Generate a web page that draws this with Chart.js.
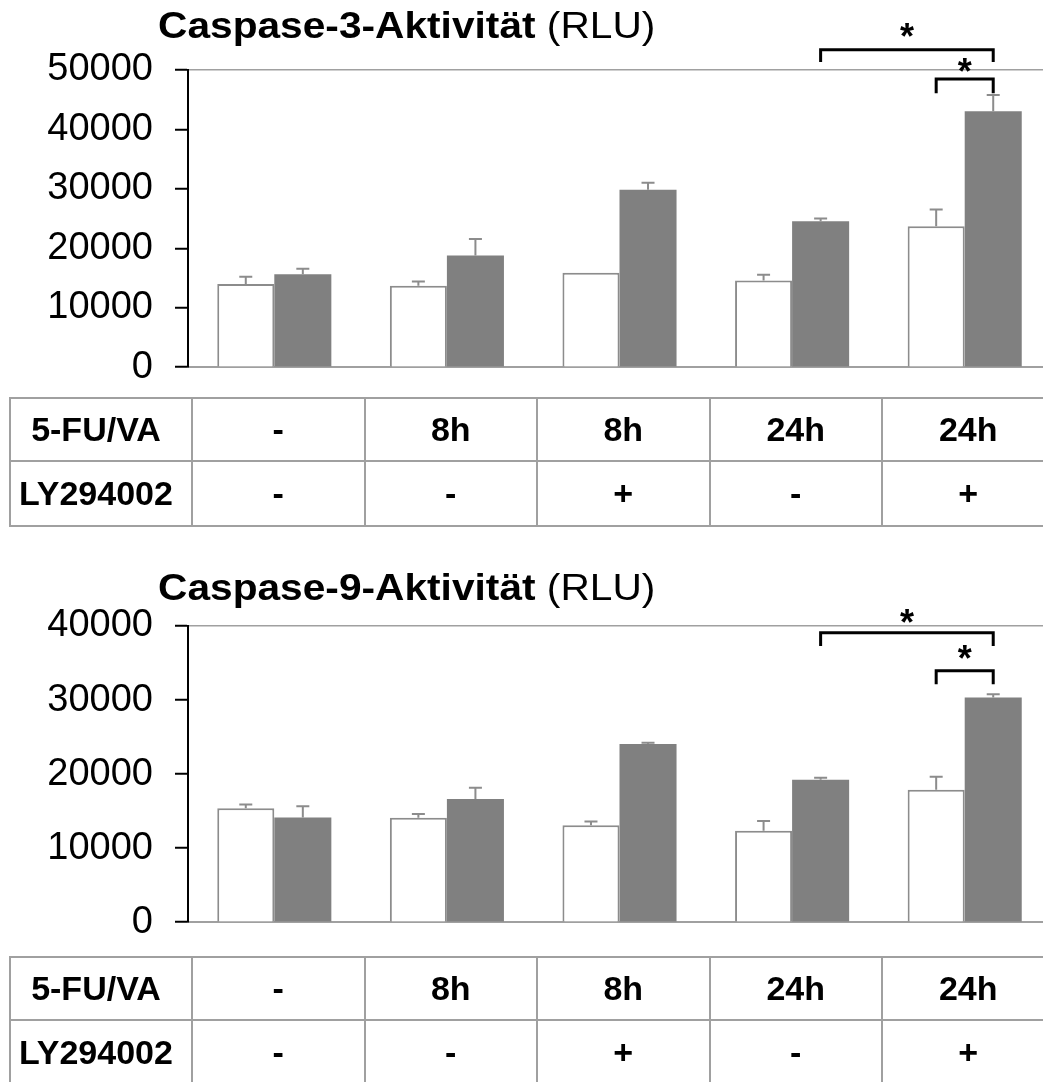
<!DOCTYPE html>
<html>
<head>
<meta charset="utf-8">
<script src="https://cdn.jsdelivr.net/npm/chart.js@4.4.0/dist/chart.umd.min.js"></script>
<style>
body { margin:0; overflow:hidden; background:#fff; font-family:"Liberation Sans", Arial, sans-serif; }
.box { position:absolute; left:0; width:1051px; }
#box1 { top:0; height:412px; }
#box2 { top:540px; height:427px; }
table { position:absolute; left:9px; border-collapse:collapse; table-layout:fixed; width:1045px; font-weight:bold; font-size:34px; }
td { border:2px solid #a0a0a0; text-align:center; padding:0; }
td.head { padding-right:10px; }
</style>
</head>
<body>
<div class="box" id="box1"><canvas id="chart1"></canvas></div>
<table id="tab1" style="top:397px"></table>
<div class="box" id="box2"><canvas id="chart2"></canvas></div>
<table id="tab2" style="top:956px"></table>
<script>
// treatment table
var fuva = ['-', '8h', '8h', '24h', '24h'];
var ly = ['-', '-', '+', '-', '+'];
var categories = fuva.map(function(f, i) { return f + ' / ' + ly[i]; });

// Caspase-3 (white / grey bars) + SD
var casp3_white = [14000, 13700, 15900, 14600, 23700];
var casp3_white_err = [1200, 700, 0, 950, 2850];
var casp3_grey = [15650, 18800, 29850, 24550, 43050];
var casp3_grey_err = [900, 2750, 1200, 450, 2750];

// Caspase-9
var casp9_white = [15400, 14100, 13100, 12350, 17900];
var casp9_white_err = [500, 500, 500, 1300, 1750];
var casp9_grey = [14150, 16650, 24050, 19250, 30350];
var casp9_grey_err = [1500, 1500, 200, 250, 450];

// significance: [dataset, index, dataset, index, bracket top, bracket foot, star]
var casp3_sig = [[1, 3, 1, 4, 53400, 51350, 56500], [0, 4, 1, 4, 48500, 46100, 50700]];
var casp9_sig = [[1, 3, 1, 4, 39100, 37300, 41200], [0, 4, 1, 4, 33950, 32150, 36350]];

var FONT = '"Liberation Sans", Arial, sans-serif';

var extras = {
  id: 'extras',
  afterDatasetsDraw: function(chart, args, opts) {
    var ctx = chart.ctx, y = chart.scales.y;
    ctx.save();
    // error bars
    ctx.strokeStyle = '#8c8c8c';
    ctx.lineWidth = 2;
    opts.errors.forEach(function(errs, d) {
      var meta = chart.getDatasetMeta(d);
      meta.data.forEach(function(bar, i) {
        if (!errs[i]) return;
        var v = chart.data.datasets[d].data[i];
        var top = y.getPixelForValue(v + errs[i]);
        ctx.beginPath();
        ctx.moveTo(bar.x, bar.y);
        ctx.lineTo(bar.x, top);
        ctx.moveTo(bar.x - 6.5, top);
        ctx.lineTo(bar.x + 6.5, top);
        ctx.stroke();
      });
    });
    // brackets + stars
    ctx.strokeStyle = '#000';
    ctx.fillStyle = '#000';
    ctx.lineWidth = 3;
    ctx.font = 'bold 36px ' + FONT;
    ctx.textAlign = 'center';
    ctx.textBaseline = 'alphabetic';
    opts.sig.forEach(function(s) {
      var x1 = chart.getDatasetMeta(s[0]).data[s[1]].x;
      var x2 = chart.getDatasetMeta(s[2]).data[s[3]].x;
      var yt = y.getPixelForValue(s[4]), yb = y.getPixelForValue(s[5]);
      ctx.beginPath();
      ctx.moveTo(x1, yb);
      ctx.lineTo(x1, yt);
      ctx.lineTo(x2, yt);
      ctx.lineTo(x2, yb);
      ctx.stroke();
      ctx.fillText('*', (x1 + x2) / 2, y.getPixelForValue(s[6]) + 18);
    });
    // title, bold part + normal part
    ctx.translate(opts.titleX, opts.titleY);
    ctx.scale(1.13, 1);
    ctx.textAlign = 'left';
    ctx.font = 'bold 36px ' + FONT;
    ctx.fillText(opts.titleBold, 0, 0);
    var w = ctx.measureText(opts.titleBold).width;
    ctx.font = '36px ' + FONT;
    ctx.fillText(' ' + opts.titleNormal, w, 0);
    ctx.restore();
  }
};

function makeChart(id, white, whiteErr, grey, greyErr, sig, ymax, title, titleY, padTop) {
  return new Chart(document.getElementById(id), {
    type: 'bar',
    data: {
      labels: categories,
      datasets: [
        { data: white, backgroundColor: '#ffffff', borderColor: '#8c8c8c', borderWidth: 2 },
        { data: grey, backgroundColor: '#808080', borderWidth: 0 }
      ]
    },
    options: {
      responsive: true,
      maintainAspectRatio: false,
      animation: false,
      devicePixelRatio: 1,
      categoryPercentage: 0.661,
      barPercentage: 1.0,
      layout: { padding: { top: padTop, bottom: 0, left: 0, right: 0 } },
      plugins: {
        legend: { display: false },
        tooltip: { enabled: false },
        extras: { errors: [whiteErr, greyErr], sig: sig, titleBold: title, titleNormal: '(RLU)', titleX: 158, titleY: titleY }
      },
      scales: {
        x: {
          grid: { display: false },
          ticks: { display: false },
          border: { color: '#a0a0a0', width: 2 },
          afterFit: function(s) { s.height = 0; }
        },
        y: {
          min: 0,
          max: ymax,
          ticks: {
            stepSize: 10000,
            color: '#000',
            padding: 22,
            font: { family: FONT, size: 38 },
            callback: function(v) { return String(v); }
          },
          grid: {
            color: function(c) { return c.tick && c.tick.value === ymax ? '#a0a0a0' : 'rgba(0,0,0,0)'; },
            lineWidth: 1.5,
            tickColor: '#000',
            tickWidth: 2,
            tickLength: 13
          },
          border: { color: '#000', width: 2 },
          afterFit: function(s) { s.width = 188; }
        }
      }
    },
    plugins: [extras]
  });
}

function buildTable(id) {
  var html = '<colgroup><col style="width:182px">';
  fuva.forEach(function() { html += '<col style="width:172.5px">'; });
  html += '</colgroup><tr style="height:63px"><td class="head">5-FU/VA</td>';
  fuva.forEach(function(f) { html += '<td>' + f + '</td>'; });
  html += '</tr><tr style="height:65px"><td class="head">LY294002</td>';
  ly.forEach(function(l) { html += '<td>' + l + '</td>'; });
  html += '</tr>';
  document.getElementById(id).innerHTML = html;
}

makeChart('chart1', casp3_white, casp3_white_err, casp3_grey, casp3_grey_err, casp3_sig, 50000, 'Caspase-3-Aktivität', 38, 70);
makeChart('chart2', casp9_white, casp9_white_err, casp9_grey, casp9_grey_err, casp9_sig, 40000, 'Caspase-9-Aktivität', 60, 86);
buildTable('tab1');
buildTable('tab2');
</script>
</body>
</html>
